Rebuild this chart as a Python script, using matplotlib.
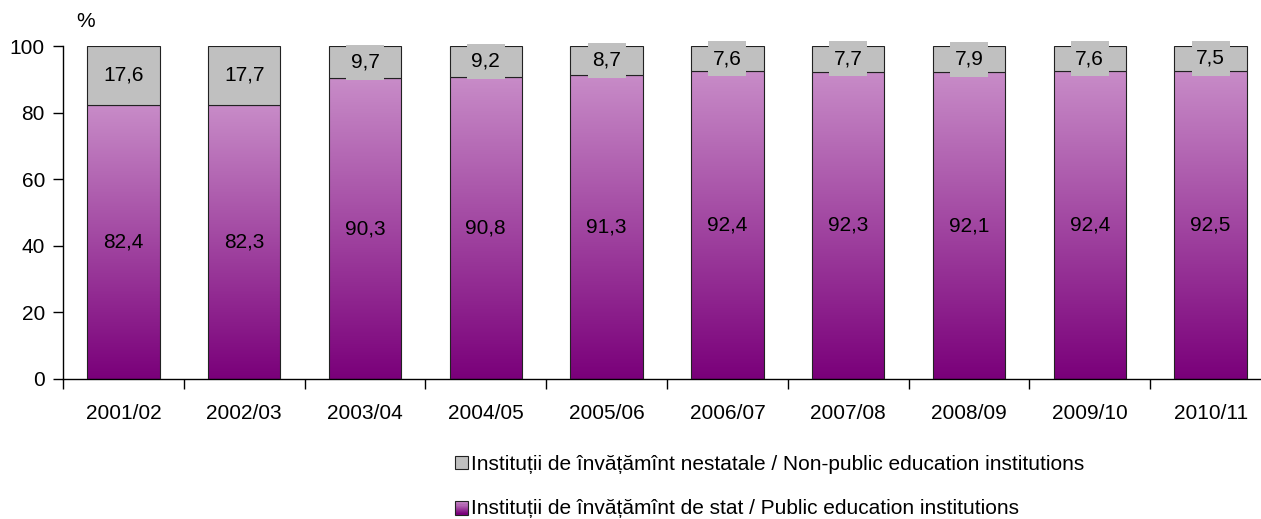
import numpy as np
import matplotlib
matplotlib.use("Agg")
import matplotlib.pyplot as plt
from matplotlib.patches import Rectangle
from matplotlib.path import Path
from matplotlib.legend_handler import HandlerBase
from matplotlib.colors import LinearSegmentedColormap

plt.rcParams['font.family'] = ['Liberation Sans', 'DejaVu Sans']

# --- data ---
years = ["2001/02", "2002/03", "2003/04", "2004/05", "2005/06",
         "2006/07", "2007/08", "2008/09", "2009/10", "2010/11"]
public = [82.4, 82.3, 90.3, 90.8, 91.3, 92.4, 92.3, 92.1, 92.4, 92.5]
nonpublic = [17.6, 17.7, 9.7, 9.2, 8.7, 7.6, 7.7, 7.9, 7.6, 7.5]
label_nonpublic = "Instituții de învățămînt nestatale / Non-public education institutions"
label_public = "Instituții de învățămînt de stat / Public education institutions"

GREY = "#C0C0C0"
TOP_PURPLE = "#C88CC8"
BOT_PURPLE = "#7A007A"
cmap = LinearSegmentedColormap.from_list("purp", [BOT_PURPLE, TOP_PURPLE])
FS = 15

fig = plt.figure(figsize=(12.61, 5.19), dpi=100)
ax = fig.add_axes([63/1261, 140/519, 1208/1261, 333/519])

x = np.arange(len(years))
width = 0.6

# public bars with vertical gradient
bars = ax.bar(x, public, width, color="none", edgecolor="#222222", lw=0.8, zorder=3)
grad = np.linspace(0, 1, 256).reshape(-1, 1)
for b in bars:
    x0, w, h = b.get_x(), b.get_width(), b.get_height()
    ax.imshow(grad, cmap=cmap, origin="lower", aspect="auto",
              extent=(x0, x0 + w, 0, h), zorder=2)

# non-public bars on top
ax.bar(x, nonpublic, width, bottom=public, color=GREY, edgecolor="#222222",
       lw=0.8, zorder=3)


def label_box(x0, y0, w, h, mutation_size):
    # wider vertical padding than horizontal, like the original labels
    px, py = 0.22 * mutation_size, 0.38 * mutation_size
    xa, xb = x0 - px, x0 + w + px
    ya, yb = y0 - py, y0 + h + py
    return Path([(xa, ya), (xb, ya), (xb, yb), (xa, yb), (xa, ya)], closed=True)


for i in range(len(years)):
    ax.text(x[i], public[i] / 2, f"{public[i]:.1f}".replace(".", ","),
            ha="center", va="center", fontsize=FS, zorder=5)
    ax.text(x[i], public[i] + nonpublic[i] / 2, f"{nonpublic[i]:.1f}".replace(".", ","),
            ha="center", va="center", fontsize=FS, zorder=5,
            bbox=dict(boxstyle=label_box, facecolor=GREY, edgecolor="none"))

ax.set_xlim(-0.5, len(years) - 0.5)
ax.set_ylim(0, 100)
ax.set_yticks(range(0, 101, 20))
ax.tick_params(axis="y", direction="out", length=7, width=1, pad=6, labelsize=FS)

ax.set_xticks(np.arange(-0.5, len(years), 1.0))
ax.set_xticklabels([])
ax.set_xticks(x, minor=True)
ax.set_xticklabels(years, minor=True)
ax.tick_params(axis="x", which="major", direction="out", length=7, width=1)
ax.tick_params(axis="x", which="minor", length=0, pad=18, labelsize=FS)

for s in ["top", "right"]:
    ax.spines[s].set_visible(False)
for s in ["left", "bottom"]:
    ax.spines[s].set_linewidth(1)
    ax.spines[s].set_color("black")

fig.text(76/1261, 1 - 22/519, "%", fontsize=FS, va="center", ha="left")


class GradientHandler(HandlerBase):
    def create_artists(self, legend, orig, xd, yd, w, h, fontsize, trans):
        arts = []
        n = 12
        for k in range(n):
            c = cmap(1 - k / (n - 1))
            arts.append(Rectangle((xd, yd + h - (k + 1) * h / n), w, h / n,
                                  facecolor=c, edgecolor="none", transform=trans))
        arts.append(Rectangle((xd, yd), w, h, facecolor="none",
                              edgecolor="#222222", lw=0.8, transform=trans))
        return arts


h_np = Rectangle((0, 0), 1, 1, facecolor=GREY, edgecolor="#222222", lw=0.8)
h_p = Rectangle((0, 0), 1, 1)
fig.legend([h_np, h_p], [label_nonpublic, label_public],
           handler_map={h_p: GradientHandler()},
           loc="upper left", bbox_to_anchor=(455/1261, 1 - 455/519),
           frameon=False, fontsize=FS, handlelength=0.62, handleheight=0.62,
           handletextpad=0.15, labelspacing=1.2, borderpad=0, borderaxespad=0)

fig.savefig("out.png", dpi=100)
